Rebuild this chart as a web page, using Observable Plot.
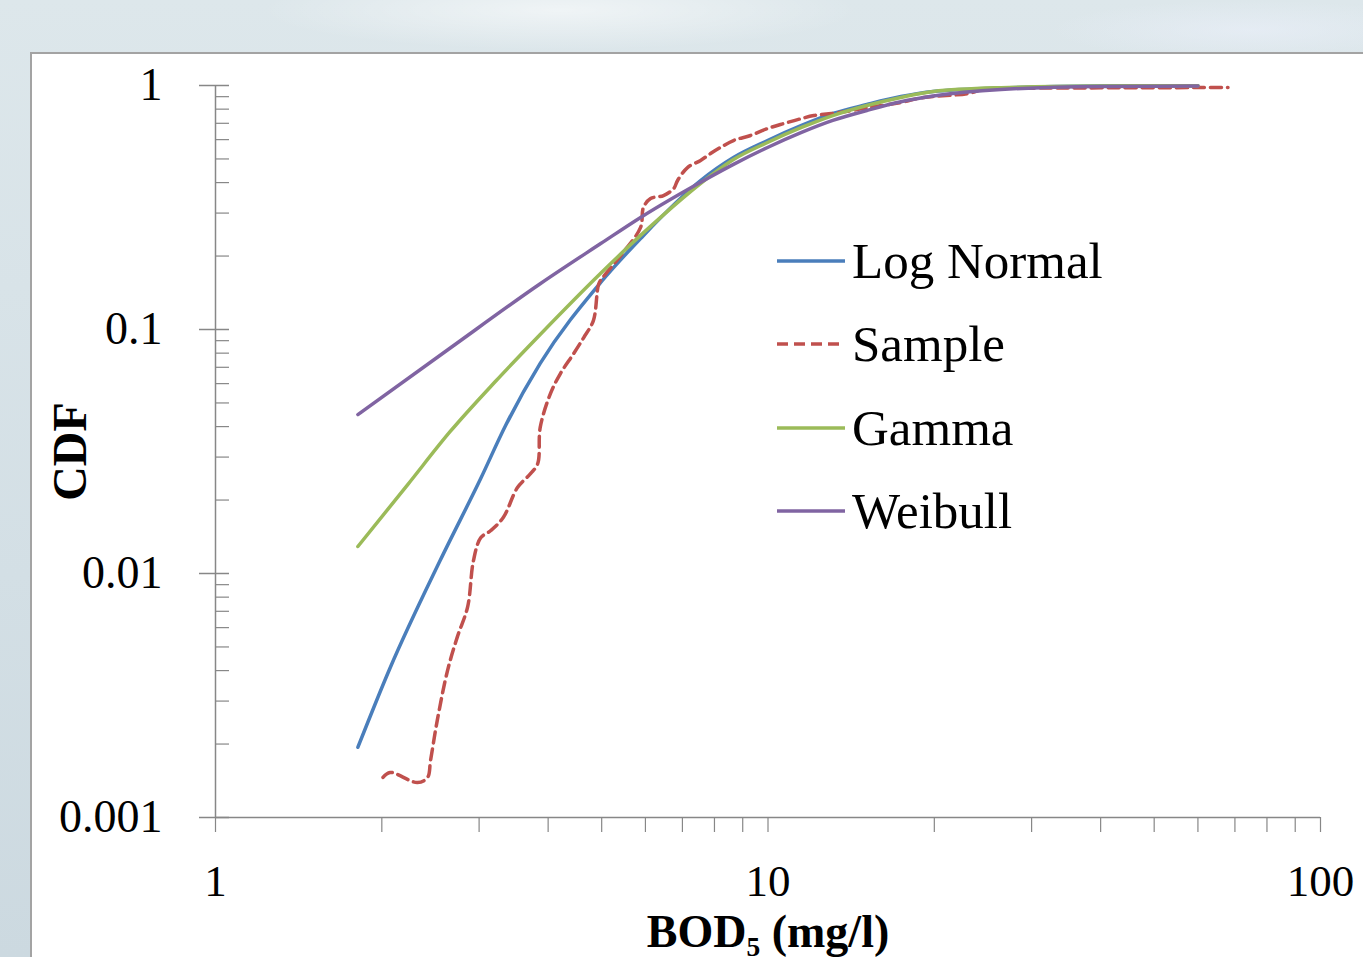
<!DOCTYPE html>
<html>
<head>
<meta charset="utf-8">
<script src="https://cdn.jsdelivr.net/npm/d3@7"></script>
<script src="https://cdn.jsdelivr.net/npm/@observablehq/plot@0.6"></script>
<style>
  html, body { margin: 0; padding: 0; width: 1363px; height: 957px; overflow: hidden; }
  body {
    position: relative;
    font-family: "Liberation Serif", serif;
    background:
      radial-gradient(ellipse 300px 40px at 560px 10px, rgba(255,255,255,0.55), rgba(255,255,255,0) 100%),
      radial-gradient(ellipse 200px 30px at 1250px 30px, rgba(235,240,250,0.6), rgba(255,255,255,0) 100%),
      linear-gradient(180deg, #dde7eb 0%, #d3dfe5 60%, #ccd9e0 100%);
  }
  #panel { position: absolute; left: 30px; top: 52px; width: 1400px; height: 1000px;
           background: #ffffff; border: 2px solid #a3a3a3; box-sizing: border-box; }
  #chart { position: absolute; left: 0; top: 0; }
  .leg { position: absolute; left: 777px; height: 60px; display: flex; align-items: center; }
  .leg span { font-size: 51px; line-height: 60px; color: #000; margin-left: 7px; white-space: nowrap; }
</style>
</head>
<body>
<div id="panel"></div>
<div id="chart"></div>
<div id="legend"></div>
<script>
// ---- data ----
const seriesNames = ["Log Normal", "Sample", "Gamma", "Weibull"];
const seriesColors = ["#4a7ebb", "#c0504d", "#9bbb59", "#8064a2"];

const logNormal = [
  [1.81, 0.00194], [2.07, 0.0041], [2.55, 0.0113], [3.02, 0.0245], [3.35, 0.0404],
  [3.87, 0.0726], [4.98, 0.156], [5.88, 0.236], [7.55, 0.408], [8.66, 0.507],
  [9.98, 0.595], [11.5, 0.686], [13.1, 0.768], [15.1, 0.836], [17.4, 0.901],
  [19.9, 0.945], [26.4, 0.977], [40, 0.995], [60, 0.998]
];
const sample = [
  [2.01, 0.00146], [2.07, 0.00153], [2.32, 0.00139], [2.42, 0.00146], [2.45, 0.00171],
  [2.52, 0.0025], [2.63, 0.0040], [2.74, 0.0055], [2.86, 0.0073], [2.93, 0.0113],
  [3.02, 0.0140], [3.15, 0.0150], [3.32, 0.0170], [3.52, 0.0225], [3.72, 0.0257],
  [3.83, 0.0282], [3.87, 0.0397], [4.04, 0.0547], [4.21, 0.066], [4.45, 0.0797],
  [4.64, 0.0927], [4.83, 0.1088], [4.94, 0.154], [5.02, 0.163], [5.45, 0.205],
  [5.88, 0.262], [5.95, 0.316], [6.13, 0.344], [6.47, 0.354], [6.75, 0.378],
  [6.86, 0.408], [7.15, 0.461], [7.55, 0.493], [7.87, 0.526], [8.2, 0.557],
  [8.66, 0.595], [9.3, 0.624], [9.98, 0.666], [10.7, 0.699], [11.5, 0.732],
  [12.1, 0.753], [13.5, 0.775], [15.1, 0.81], [17.4, 0.852], [18.7, 0.885],
  [19.9, 0.901], [23, 0.927], [24.6, 0.965], [30, 0.975], [40, 0.978], [68, 0.981]
];
const gamma = [
  [1.81, 0.0129], [2.23, 0.0232], [2.66, 0.0382], [3.21, 0.0612], [3.87, 0.0954],
  [4.98, 0.170], [5.88, 0.243], [7.97, 0.436], [8.66, 0.497], [9.98, 0.584],
  [11.5, 0.673], [13.1, 0.753], [15.1, 0.828], [17.4, 0.893], [19.9, 0.945],
  [26.4, 0.98], [40, 0.995], [60, 0.998]
];
const weibull = [
  [1.81, 0.0448], [2.66, 0.084], [3.87, 0.154], [4.98, 0.225], [5.88, 0.288],
  [7.77, 0.416], [8.66, 0.475], [9.98, 0.557], [11.5, 0.642], [13.1, 0.719],
  [15.1, 0.79], [17.4, 0.858], [19.9, 0.905], [26.4, 0.963], [40, 0.99], [60, 0.995]
];

const xMajor = [1, 10, 100];
const xMinor = [2, 3, 4, 5, 6, 7, 8, 9, 20, 30, 40, 50, 60, 70, 80, 90];
const yMajor = [0.001, 0.01, 0.1, 1];
const yMinor = [0.002, 0.003, 0.004, 0.005, 0.006, 0.007, 0.008, 0.009,
                0.02, 0.03, 0.04, 0.05, 0.06, 0.07, 0.08, 0.09,
                0.2, 0.3, 0.4, 0.5, 0.6, 0.7, 0.8, 0.9];
const yLabels = ["0.001", "0.01", "0.1", "1"];
const xLabels = ["1", "10", "100"];
const xTitle = "BOD\u2085 (mg/l)";
const yTitle = "CDF";

// ---- layout ----
const W = 1363, H = 957;
const mL = 215, mR = 43, mT = 85, mB = 140;
const fw = W - mL - mR, fh = H - mT - mB;
const axisColor = "#878787";
const font = "Liberation Serif";

const toRows = arr => arr.map(([x, y]) => ({x, y}));

const plot = Plot.plot({
  width: W, height: H,
  marginLeft: mL, marginRight: mR, marginTop: mT, marginBottom: mB,
  x: {type: "log", domain: [1, 100], axis: null},
  y: {type: "log", domain: [0.001, 1], axis: null},
  style: {background: "transparent", overflow: "visible", fontFamily: font},
  marks: [
    // axis lines
    Plot.ruleX([1], {stroke: axisColor, strokeWidth: 1.5}),
    Plot.ruleY([0.001], {stroke: axisColor, strokeWidth: 1.5}),
    // y ticks
    Plot.tickY(yMajor, {y: d => d, stroke: axisColor, strokeWidth: 1.5, insetRight: fw - 30, dx: -16}),
    Plot.tickY(yMinor, {y: d => d, stroke: axisColor, strokeWidth: 1.2, insetRight: fw - 14}),
    // x ticks
    Plot.tickX(xMajor.concat(xMinor), {x: d => d, stroke: axisColor, strokeWidth: 1.2, insetTop: fh - 15, dy: 15}),
    // tick labels
    Plot.text(yMajor, {x: 1, y: d => d, text: (d, i) => yLabels[i], dx: -53, textAnchor: "end",
      lineAnchor: "middle", fontSize: 46, fill: "#000"}),
    Plot.text(xMajor, {x: d => d, y: 0.001, text: (d, i) => xLabels[i], dy: 64, textAnchor: "middle",
      lineAnchor: "middle", fontSize: 45, fill: "#000"}),
    // axis titles
    Plot.text([yTitle], {frameAnchor: "left", dx: -145, rotate: -90, textAnchor: "middle",
      lineAnchor: "middle", fontSize: 48, fontWeight: "bold", fill: "#000"}),
    Plot.text([xTitle], {frameAnchor: "bottom", dy: 115, textAnchor: "middle",
      lineAnchor: "middle", fontSize: 46, fontWeight: "bold", fill: "#000"}),
    // series
    Plot.line(toRows(logNormal), {x: "x", y: "y", stroke: seriesColors[0], strokeWidth: 3.5, curve: "monotone-x"}),
    Plot.line(toRows(sample), {x: "x", y: "y", stroke: seriesColors[1], strokeWidth: 3.5, strokeDasharray: "11,6", curve: "catmull-rom"}),
    Plot.line(toRows(gamma), {x: "x", y: "y", stroke: seriesColors[2], strokeWidth: 3.5, curve: "monotone-x"}),
    Plot.line(toRows(weibull), {x: "x", y: "y", stroke: seriesColors[3], strokeWidth: 3.5, curve: "monotone-x"})
  ]
});
document.getElementById("chart").appendChild(plot);

// ---- legend ----
const legendRowCenters = [261, 344, 428, 511];
const legend = document.getElementById("legend");
seriesNames.forEach((name, i) => {
  const row = document.createElement("div");
  row.className = "leg";
  row.style.top = (legendRowCenters[i] - 30) + "px";
  const dash = name === "Sample" ? ' stroke-dasharray="11,6"' : "";
  row.innerHTML = `<svg width="68" height="8"><line x1="0" y1="4" x2="68" y2="4" stroke="${seriesColors[i]}" stroke-width="3.5"${dash}/></svg><span>${name}</span>`;
  legend.appendChild(row);
});
</script>
</body>
</html>
